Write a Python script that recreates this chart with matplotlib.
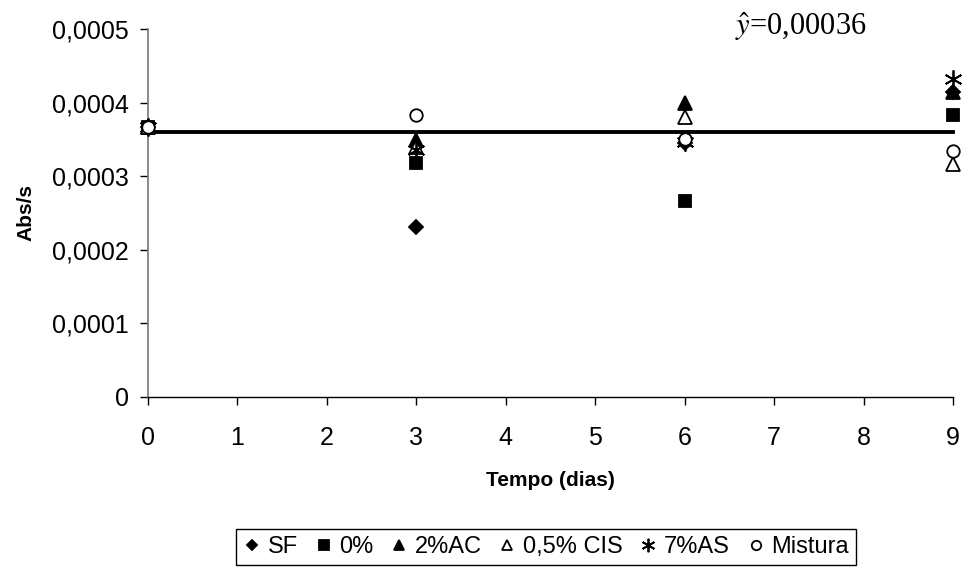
import matplotlib
matplotlib.use("Agg")
import matplotlib.pyplot as plt
import matplotlib.ticker as mticker

plt.rcParams["font.family"] = ["Liberation Sans", "DejaVu Sans"]
plt.rcParams["mathtext.fontset"] = "stix"

# ── Data ──────────────────────────────────────────────────────────────
dias = [0, 3, 6, 9]

sf      = [0.000367, 0.000231, 0.000345, 0.000415]
zero    = [0.000367, 0.000318, 0.000266, 0.000383]
ac2     = [0.000367, 0.000349, 0.000400, 0.000414]
cis05   = [0.000367, 0.000340, 0.000381, 0.000317]
as7     = [0.000367, 0.000335, 0.000347, 0.000432]
mistura = [0.000367, 0.000383, 0.000350, 0.000334]

media = 0.00036
ytick_vals = [0, 0.0001, 0.0002, 0.0003, 0.0004, 0.0005]

# ── Plot ──────────────────────────────────────────────────────────────
fig = plt.figure(figsize=(9.64, 5.73), dpi=100)
ax = fig.add_axes([0.1535, 0.3072, 0.8351, 0.6422])

ax.plot([0, 9], [media, media], color="black", linewidth=2.8, zorder=1)

series = [
    ("SF",       sf,      "D", 7,  "black"),
    ("0%",       zero,    "s", 9,  "black"),
    ("2%AC",     ac2,     "^", 10, "black"),
    ("0,5% CIS", cis05,   "^", 10, "white"),
    ("7%AS",     as7,     (6, 2, 0), 13, "black"),
    ("Mistura",  mistura, "o", 9,  "white"),
]
for label, vals, mk, ms, fc in series:
    ax.plot(dias, vals, linestyle="none", marker=mk, markersize=ms,
            markerfacecolor=fc, markeredgecolor="black", markeredgewidth=1.3,
            label=label, zorder=3)

ax.set_xlim(0, 9)
ax.set_ylim(0, 0.0005)
ax.set_xticks(range(10))
ax.set_yticks(ytick_vals)
ax.yaxis.set_major_formatter(mticker.FuncFormatter(
    lambda v, p: "0" if v == 0 else f"{v:.4f}".replace(".", ",")))
ax.tick_params(labelsize=18, direction="out", length=6, width=1)
ax.tick_params(axis="x", pad=15)
ax.tick_params(axis="y", pad=8)

for s in ["top", "right"]:
    ax.spines[s].set_visible(False)
ax.spines["left"].set_color("#808080")
ax.spines["left"].set_linewidth(1.3)
ax.spines["bottom"].set_color("black")
ax.spines["bottom"].set_linewidth(1.0)
for ln in ax.lines:
    ln.set_clip_on(False)

ax.set_xlabel("Tempo (dias)", fontsize=15, fontweight="bold", labelpad=15)
ax.set_ylabel("Abs/s", fontsize=15, fontweight="bold", labelpad=12)

ax.text(0.762, 0.953, r"$\hat{y}$=0,00036", transform=fig.transFigure,
        fontsize=22, family="Liberation Serif", ha="left", va="center")

leg = fig.legend(loc="center", bbox_to_anchor=(0.566, 0.045), ncol=6,
                 fontsize=17, markerscale=0.75, handlelength=0.8,
                 handletextpad=0.25, columnspacing=0.7, borderpad=0.3,
                 fancybox=False, edgecolor="black", framealpha=1)
leg.get_frame().set_linewidth(1.0)

fig.savefig("out.png", dpi=100, facecolor="white")
